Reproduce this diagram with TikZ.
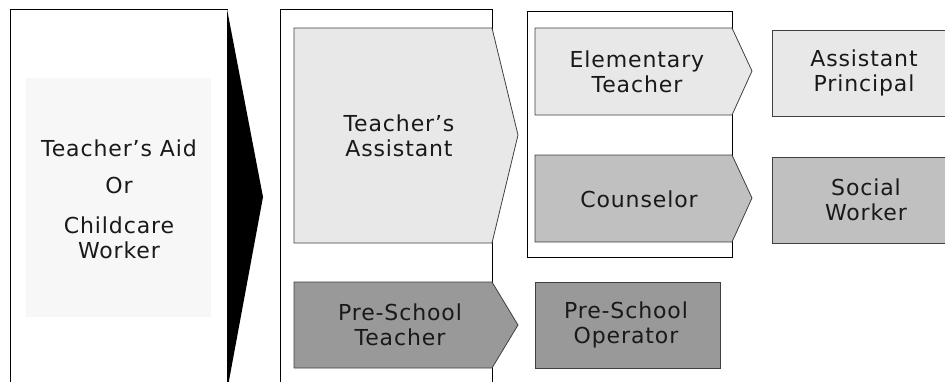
\documentclass[tikz,border=0pt]{standalone}
\usepackage{fontspec}
\setmainfont{DejaVu Sans}[LetterSpace=4]
\definecolor{litegray}{HTML}{E8E8E8}
\definecolor{midgray}{HTML}{C0C0C0}
\definecolor{darkgray}{HTML}{999999}
\definecolor{palegray}{HTML}{F7F7F7}
\begin{document}
\begin{tikzpicture}[x=1pt,y=-1pt,
    lbl/.style={align=center,font=\fontsize{22}{25}\selectfont,text=black!90},
    frame/.style={draw=black,line width=0.9pt},
    lite/.style={fill=litegray,draw=black!75,line width=0.8pt},
    mid/.style={fill=midgray,draw=black!75,line width=0.8pt},
    dark/.style={fill=darkgray,draw=black!75,line width=0.8pt}]

    \useasboundingbox (0,0) rectangle (945,381);
    \clip (0,0) rectangle (945,381);

    % the frames
    
    \draw[frame] (10,400) -- (10,9) -- (228,9);
    \fill[palegray] (26,78) rectangle (211,317);
    \fill[black] (227,9) -- (263,197) -- (228,386) -- (227,386) -- cycle;
    \draw[frame] (280,400) -- (280,9) -- (492,9) -- (492,400);
    \draw[frame] (527,11) rectangle (732,257);

    % the chevrons

    \draw[lite] (294,28) -- (492,28) -- (518,135) -- (492,243) -- (294,243) -- cycle;
    \draw[dark] (294,282) -- (492,282) -- (518,325) -- (492,368) -- (294,368) -- cycle;
    \draw[lite] (535,28) -- (732,28) -- (752,71) -- (732,115) -- (535,115) -- cycle;
    \draw[mid] (535,155) -- (732,155) -- (752,198) -- (732,242) -- (535,242) -- cycle;
    \draw[lite] (772,30) rectangle (950,116);
    \draw[mid] (772,157) rectangle (950,243);
    \draw[dark] (535,282) rectangle (720,368);

    % the texts

    \node[lbl] (aid) at (119,199) {Teacher’s Aid\\[12pt]Or\\[15pt]Childcare\\Worker};
    \node[lbl] (ta) at (399,136) {Teacher’s\\Assistant};
    \node[lbl] (pst) at (400,325) {Pre-School\\Teacher};
    \node[lbl] (et) at (637,72) {Elementary\\Teacher};
    \node[lbl] (co) at (639,199) {Counselor};
    \node[lbl] (ap) at (864,73) {Assistant\\Principal};
    \node[lbl] (sw) at (866,200) {Social\\Worker};
    \node[lbl] (pso) at (626,325) {Pre-School\\Operator};
  \end{tikzpicture}
\end{document}
